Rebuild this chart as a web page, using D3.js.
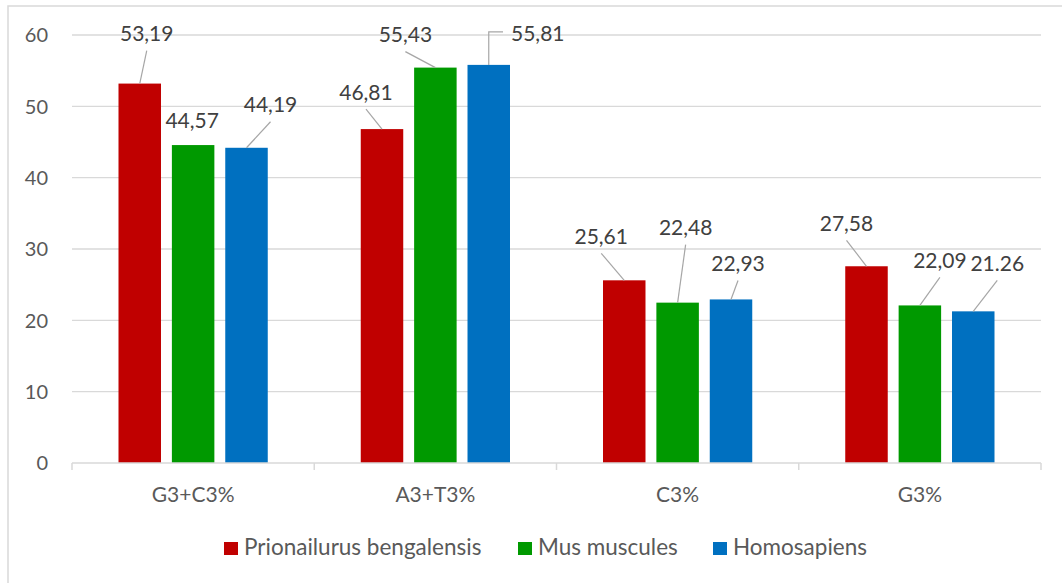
<!DOCTYPE html>
<html>
<head>
<meta charset="utf-8">
<script src="https://cdn.jsdelivr.net/npm/d3@7"></script>
<style>
  html, body { margin: 0; padding: 0; background: #ffffff; }
  svg { display: block; font-family: Lato, "Open Sans", sans-serif; }
</style>
</head>
<body>
<svg id="chart" width="1062" height="583"></svg>
<script>
// Categories, series and tick values
const categories = ["G3+C3%", "A3+T3%", "C3%", "G3%"];
const seriesNames = ["Prionailurus bengalensis", "Mus muscules", "Homosapiens"];
const seriesColors = ["#C00000", "#009900", "#0070C0"];

const prionailurus = [53.19, 46.81, 25.61, 27.58];
const musMuscules = [44.57, 55.43, 22.48, 22.09];
const homosapiens = [44.19, 55.81, 22.93, 21.26];

// Value label texts as printed above the bars
const prionailurusLabels = ["53,19", "46,81", "25,61", "27,58"];
const musMusculesLabels = ["44,57", "55,43", "22,48", "22,09"];
const homosapiensLabels = ["44,19", "55,81", "22,93", "21.26"];

const yTicks = [0, 10, 20, 30, 40, 50, 60];

// Label placement: pixel offset of each label centre from its bar's top centre,
// plus the kind of leader line joining them
const prionailurusLabelOffsets = [[7, -50], [-16, -37], [-23, -44], [-20, -43]];
const musMusculesLabelOffsets = [[-1, -25], [-30, -33], [8, -75], [20, -45]];
const homosapiensLabelOffsets = [[24, -43], [49, -31], [7, -36], [24, -48]];
const prionailurusLeaders = ["line", "line", "line", "line"];
const musMusculesLeaders = ["none", "line", "line", "line"];
const homosapiensLeaders = ["line", "elbow", "line", "line"];

const seriesValues = [prionailurus, musMuscules, homosapiens];
const seriesLabels = [prionailurusLabels, musMusculesLabels, homosapiensLabels];
const seriesOffsets = [prionailurusLabelOffsets, musMusculesLabelOffsets, homosapiensLabelOffsets];
const seriesLeaders = [prionailurusLeaders, musMusculesLeaders, homosapiensLeaders];

const svg = d3.select("#chart");
const W = 1062, H = 583;
const plot = { left: 72, right: 1041, top: 35, bottom: 463 };

const gridColor = "#d9d9d9";
const axisText = "#595959";
const labelText = "#404040";
const leaderColor = "#a6a6a6";

svg.append("rect").attr("width", W).attr("height", H).attr("fill", "#ffffff");
// outer chart frame
svg.append("rect")
  .attr("x", 8).attr("y", 6)
  .attr("width", W).attr("height", H)
  .attr("fill", "none").attr("stroke", gridColor).attr("stroke-width", 1.5);

const x0 = d3.scaleBand().domain(categories).range([plot.left, plot.right]).padding(0);
const groupPad = 46.5;
const x1 = d3.scaleBand().domain(d3.range(seriesNames.length))
  .range([groupPad, x0.bandwidth() - groupPad]).paddingInner(0.204).paddingOuter(0);
const y = d3.scaleLinear().domain([0, 60]).range([plot.bottom, plot.top]);

// horizontal gridlines
svg.append("g").selectAll("line").data(yTicks.filter(t => t > 0)).join("line")
  .attr("x1", plot.left).attr("x2", plot.right)
  .attr("y1", d => y(d)).attr("y2", d => y(d))
  .attr("stroke", gridColor).attr("stroke-width", 1.3);

// y tick labels
svg.append("g").selectAll("text").data(yTicks).join("text")
  .attr("x", 48).attr("y", d => y(d)).attr("dy", "0.36em")
  .attr("text-anchor", "end").attr("fill", axisText)
  .attr("font-size", 20).text(d => d);

// bars
const groups = svg.append("g").selectAll("g").data(categories).join("g")
  .attr("transform", d => `translate(${x0(d)},0)`);

groups.selectAll("rect")
  .data((c, ci) => seriesValues.map((vals, si) => ({ si, v: vals[ci] })))
  .join("rect")
  .attr("x", d => x1(d.si))
  .attr("y", d => y(d.v))
  .attr("width", x1.bandwidth())
  .attr("height", d => y(0) - y(d.v))
  .attr("fill", d => seriesColors[d.si]);

// x axis line and category ticks
svg.append("line")
  .attr("x1", plot.left).attr("x2", plot.right)
  .attr("y1", plot.bottom).attr("y2", plot.bottom)
  .attr("stroke", gridColor).attr("stroke-width", 1.5);
const boundaries = categories.map(c => x0(c)).concat([plot.right]);
svg.append("g").selectAll("line").data(boundaries).join("line")
  .attr("x1", d => d).attr("x2", d => d)
  .attr("y1", plot.bottom).attr("y2", plot.bottom + 7)
  .attr("stroke", gridColor).attr("stroke-width", 1.5);

svg.append("g").selectAll("text").data(categories).join("text")
  .attr("x", d => x0(d) + x0.bandwidth() / 2).attr("y", 494).attr("dy", "0.36em")
  .attr("text-anchor", "middle").attr("fill", axisText)
  .attr("font-size", 21).text(d => d);

// value labels with leader lines
const labelLayer = svg.append("g");
categories.forEach((c, ci) => {
  seriesValues.forEach((vals, si) => {
    const bx = x0(c) + x1(si) + x1.bandwidth() / 2;
    const by = y(vals[ci]);
    const [dx, dy] = seriesOffsets[si][ci];
    const lx = bx + dx, ly = by + dy;
    const kind = seriesLeaders[si][ci];
    const txt = labelLayer.append("text")
      .attr("x", lx).attr("y", ly).attr("dy", "0.36em")
      .attr("text-anchor", "middle").attr("fill", labelText)
      .attr("font-size", 21).text(seriesLabels[si][ci]);
    if (kind === "line") {
      labelLayer.append("line")
        .attr("x1", lx).attr("y1", ly + 17)
        .attr("x2", bx).attr("y2", by)
        .attr("stroke", leaderColor).attr("stroke-width", 1.2);
    } else if (kind === "elbow") {
      const w = txt.node().getComputedTextLength();
      const sx = lx - w / 2 - 8;
      labelLayer.append("path")
        .attr("d", `M${sx},${ly - 2}H${bx}V${by}`)
        .attr("fill", "none")
        .attr("stroke", leaderColor).attr("stroke-width", 1.2);
    }
  });
});

// legend
const legendItems = [
  { name: seriesNames[0], color: seriesColors[0], x: 224 },
  { name: seriesNames[1], color: seriesColors[1], x: 518 },
  { name: seriesNames[2], color: seriesColors[2], x: 713 }
];
const legend = svg.append("g").selectAll("g").data(legendItems).join("g")
  .attr("transform", d => `translate(${d.x},542)`);
legend.append("rect").attr("width", 14).attr("height", 13).attr("fill", d => d.color);
legend.append("text").attr("x", 20).attr("y", 13).attr("dy", "0em")
  .attr("fill", axisText).attr("font-size", 22.5).text(d => d.name);
</script>
</body>
</html>
